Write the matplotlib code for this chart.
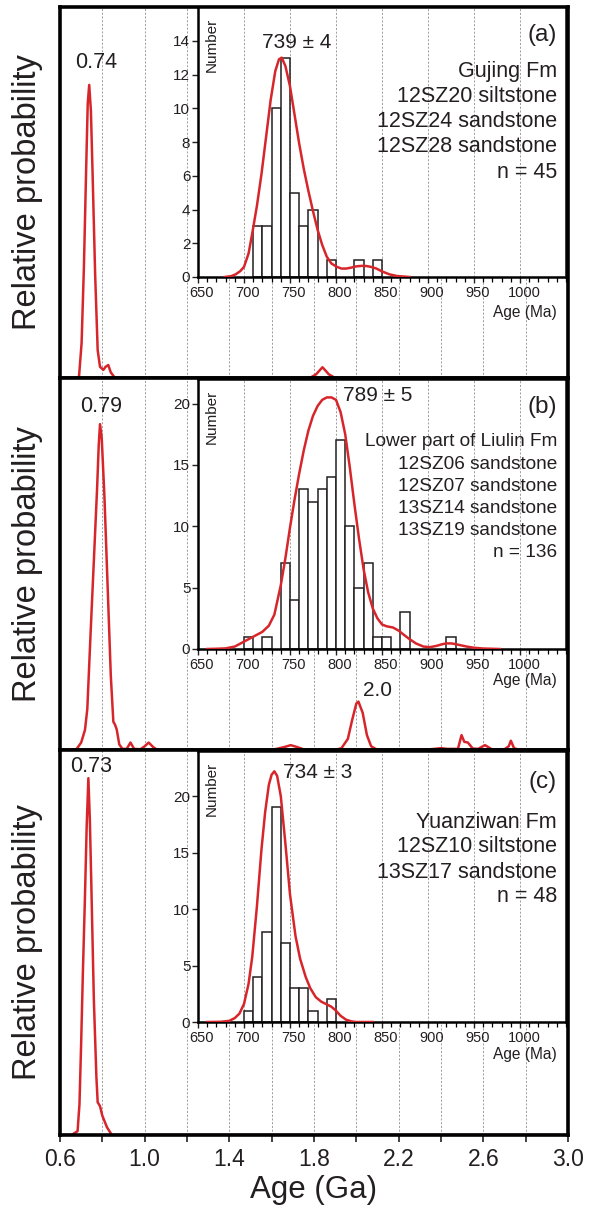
import matplotlib
matplotlib.use("Agg")
import matplotlib.pyplot as plt
from matplotlib.ticker import MultipleLocator
from matplotlib.transforms import ScaledTranslation

plt.rcParams["font.family"] = ["Liberation Sans", "DejaVu Sans"]

W, H = 590, 1205
RED = "#d7262b"
INK = "#231f20"
GRID = "#8f8f8f"

# ---- main relative-probability curves (age in Ga, height as fraction of panel) ----
a_main_ga = [0.60, 0.68, 0.69, 0.702, 0.713, 0.723, 0.731, 0.738, 0.746, 0.754, 0.766,
             0.778, 0.789, 0.805, 0.815, 0.828, 0.84, 0.86, 1.78, 1.81, 1.84, 1.87,
             1.90, 3.0]
a_main_p = [0, 0, 0.005, 0.094, 0.30, 0.55, 0.74, 0.79, 0.72, 0.55, 0.28,
            0.075, 0.03, 0.022, 0.03, 0.035, 0.015, 0, 0, 0.01, 0.029, 0.01,
            0, 0]

b_main_ga = [0.60, 0.66, 0.679, 0.70, 0.718, 0.729, 0.745, 0.76, 0.775, 0.783, 0.789,
             0.797, 0.81, 0.825, 0.84, 0.852, 0.86, 0.868, 0.88, 0.895, 0.915, 0.933,
             0.95, 0.98, 1.0, 1.019, 1.04, 1.06, 1.60, 1.66, 1.69, 1.72, 1.76, 1.90,
             1.93, 1.96, 1.98, 2.0, 2.01, 2.03, 2.05, 2.07, 2.10, 2.30, 2.37, 2.40,
             2.43, 2.48, 2.497, 2.51, 2.527, 2.55, 2.575, 2.608, 2.64, 2.70, 2.72,
             2.73, 2.745, 2.76, 2.80, 3.0]
b_main_p = [0, 0, 0.003, 0.02, 0.054, 0.11, 0.32, 0.51, 0.70, 0.82, 0.876,
            0.84, 0.68, 0.44, 0.20, 0.076, 0.068, 0.055, 0.015, 0.003, 0.003, 0.02,
            0.003, 0.002, 0.01, 0.02, 0.008, 0, 0, 0.008, 0.013, 0.008, 0, 0,
            0.005, 0.03, 0.08, 0.125, 0.13, 0.10, 0.04, 0.01, 0, 0, 0.003, 0.005,
            0.003, 0.003, 0.04, 0.022, 0.02, 0.004, 0.003, 0.013, 0.002, 0.002, 0.01,
            0.025, 0.005, 0.002, 0, 0]

c_main_ga = [0.60, 0.655, 0.683, 0.692, 0.70, 0.708, 0.717, 0.726, 0.734, 0.741, 0.748,
             0.76, 0.772, 0.778, 0.789, 0.80, 0.822, 0.845, 3.0]
c_main_p = [0, 0, 0.01, 0.08, 0.24, 0.42, 0.60, 0.80, 0.927, 0.82, 0.65,
            0.35, 0.15, 0.085, 0.075, 0.05, 0.02, 0, 0]

# ---- inset histograms (bin left edge in Ma, count) ----
a_bin_left = [710, 720, 730, 740, 750, 760, 770, 790, 820, 840]
a_count = [3, 3, 10, 13, 5, 3, 4, 1, 1, 1]
b_bin_left = [700, 720, 740, 750, 760, 770, 780, 790, 800, 810, 820, 830, 840, 850, 870, 920]
b_count = [1, 1, 7, 4, 13, 12, 13, 14, 17, 10, 5, 7, 1, 1, 3, 1]
c_bin_left = [700, 710, 720, 730, 740, 750, 760, 770, 790]
c_count = [1, 4, 8, 19, 7, 3, 3, 1, 2]

# ---- inset probability curves (Ma, scaled to counts) ----
a_curve_ma = [679, 686, 691, 696, 700, 705, 709, 714, 719, 724, 729, 734, 738, 741,
              745, 750, 755, 760, 765, 770, 775, 780, 785, 790, 795, 801, 806, 811,
              816, 822, 828, 833, 838, 844, 850, 858, 866, 880]
a_curve_n = [0, 0.05, 0.16, 0.35, 0.6, 1.4, 2.6, 4.2, 6.1, 8.3, 10.5, 12.2, 12.9, 13.0,
             12.5, 11.3, 9.6, 7.9, 6.4, 5.1, 3.9, 2.8, 1.9, 1.2, 0.8, 0.6, 0.5, 0.5,
             0.55, 0.63, 0.66, 0.65, 0.6, 0.5, 0.33, 0.16, 0.06, 0]
b_curve_ma = [660, 670, 680, 690, 700, 710, 720, 727, 733, 740, 745, 750, 755, 760,
              765, 770, 775, 780, 785, 790, 795, 800, 805, 810, 815, 820, 825, 830,
              835, 840, 845, 850, 855, 862, 868, 873, 880, 887, 895, 902, 909, 915,
              920, 926, 931, 937, 942, 950, 960, 978]
b_curve_n = [0, 0.02, 0.05, 0.2, 0.6, 1.0, 1.4, 1.9, 2.8, 5.2, 7.4, 9.9, 12.2, 14.3,
             16.2, 17.8, 19.0, 19.8, 20.3, 20.5, 20.5, 20.3, 19.3, 17.5, 14.8, 11.8, 9.0,
             6.5, 4.6, 3.3, 2.5, 2.0, 1.85, 1.75, 1.5, 1.2, 0.8, 0.45, 0.2, 0.15, 0.25,
             0.38, 0.46, 0.45, 0.38, 0.28, 0.2, 0.1, 0.04, 0]
c_curve_ma = [660, 675, 684, 690, 695, 700, 705, 709, 714, 719, 723, 727, 730, 733,
              736, 740, 745, 750, 756, 761, 767, 772, 778, 784, 789, 795, 800, 805,
              811, 817, 822, 840]
c_curve_n = [0, 0.02, 0.1, 0.35, 0.74, 1.6, 3.4, 5.8, 10.2, 15.3, 18.6, 21.0, 21.9,
             22.2, 21.8, 20.0, 15.8, 11.3, 7.6, 5.6, 4.0, 3.0, 2.2, 1.8, 1.6, 1.35,
             1.0, 0.55, 0.2, 0.05, 0, 0]

main_xticks = [0.6, 1.0, 1.4, 1.8, 2.2, 2.6, 3.0]
inset_xticks = [650, 700, 750, 800, 850, 900, 950, 1000]


def rect(left, top, right, bottom):
    return [left / W, 1 - bottom / H, (right - left) / W, (bottom - top) / H]


def put(x, y, s, size=12, ha="center", **kw):
    fig.text(x / W, 1 - y / H, s, fontsize=size, ha=ha, va="center", color=INK, **kw)


def main_panel(box, ga, p, bottom_labels):
    ax = fig.add_axes(rect(*box))
    ax.plot(ga, p, color=RED, lw=1.8, zorder=2)
    ax.set_xlim(0.6, 3.0)
    ax.set_ylim(0, 1)
    ax.set_yticks([])
    ax.set_xticks(main_xticks)
    ax.xaxis.set_minor_locator(MultipleLocator(0.2))
    ax.grid(axis="x", which="both", color=GRID, lw=0.6, ls=(0, (2.5, 2)))
    for s in ax.spines.values():
        s.set_linewidth(2.6)
        s.set_color("black")
    if bottom_labels:
        ax.tick_params(axis="x", which="both", direction="out", length=5, width=1.2,
                       labelsize=16.5, pad=4, colors=INK)
        ax.set_xticklabels([f"{t:.1f}" for t in main_xticks])
        ax.set_xlabel("Age (Ga)", fontsize=22.5, color=INK, labelpad=3)
    else:
        ax.tick_params(axis="x", which="both", length=0, labelbottom=False)
    ax.set_ylabel("Relative probability", fontsize=23.5, color=INK, labelpad=12)
    return ax


def inset_panel(box, left, count, cx, cy, ymax, yticks):
    ax = fig.add_axes(rect(*box))
    ax.set_facecolor("white")
    ax.bar(left, count, width=10, align="edge", facecolor="white", edgecolor=INK,
           lw=1.1, zorder=2)
    ax.plot(cx, cy, color=RED, lw=1.8, zorder=3)
    ax.set_xlim(650, 1050)
    ax.set_ylim(0, ymax)
    ax.set_xticks(inset_xticks)
    ax.xaxis.set_minor_locator(MultipleLocator(10))
    ax.set_yticks(yticks)
    ax.grid(axis="x", which="major", color=GRID, lw=0.6, ls=(0, (2.5, 2)), zorder=0)
    ax.set_axisbelow(True)
    ax.tick_params(axis="x", which="major", direction="out", length=4, width=1,
                   labelsize=10.5, pad=2.5, colors=INK)
    ax.tick_params(axis="x", which="minor", direction="out", length=3.5, width=0.9)
    ax.tick_params(axis="y", direction="out", length=4, width=1, labelsize=11,
                   pad=1.5, colors=INK)
    shift = ScaledTranslation(4 / 100, 0, fig.dpi_scale_trans)
    for lab in ax.get_xticklabels():
        lab.set_transform(lab.get_transform() + shift)
    for s in ax.spines.values():
        s.set_linewidth(1.8)
        s.set_color("black")
    ax.text(0.037, 0.96, "Number", rotation=90, fontsize=11, color=INK,
            transform=ax.transAxes, ha="center", va="top")
    return ax


fig = plt.figure(figsize=(W / 100, H / 100), dpi=100)

main_panel((60, 7, 568, 378), a_main_ga, a_main_p, False)
main_panel((60, 378, 568, 750), b_main_ga, b_main_p, False)
main_panel((60, 750, 568, 1135), c_main_ga, c_main_p, True)

inset_panel((198, 7, 566, 277), a_bin_left, a_count, a_curve_ma, a_curve_n, 16,
            [0, 2, 4, 6, 8, 10, 12, 14])
inset_panel((198, 379, 566, 649), b_bin_left, b_count, b_curve_ma, b_curve_n, 22,
            [0, 5, 10, 15, 20])
inset_panel((198, 751, 566, 1022), c_bin_left, c_count, c_curve_ma, c_curve_n, 24,
            [0, 5, 10, 15, 20])

# panel (a) annotations
put(96, 62, "0.74", 15.5)
put(297, 42, "739 ± 4", 15)
put(557, 35, "(a)", 17.5, ha="right")
for i, s in enumerate(["Gujing Fm", "12SZ20 siltstone", "12SZ24 sandstone",
                       "12SZ28 sandstone", "n = 45"]):
    put(557, 71 + 25.3 * i, s, 15.5, ha="right")
put(557, 313, "Age (Ma)", 11.2, ha="right")

# panel (b) annotations
put(101, 406, "0.79", 15.5)
put(378, 690, "2.0", 15)
put(378, 396, "789 ± 5", 15)
put(557, 407, "(b)", 17.5, ha="right")
for i, s in enumerate(["Lower part of Liulin Fm", "12SZ06 sandstone",
                       "12SZ07 sandstone", "13SZ14 sandstone", "13SZ19 sandstone",
                       "n = 136"]):
    put(557, 442 + 22.2 * i, s, 13.7, ha="right")
put(557, 681, "Age (Ma)", 11.2, ha="right")

# panel (c) annotations
put(91, 766, "0.73", 15.5)
put(318, 773, "734 ± 3", 15)
put(557, 782, "(c)", 17.5, ha="right")
for i, s in enumerate(["Yuanziwan Fm", "12SZ10 siltstone", "13SZ17 sandstone",
                       "n = 48"]):
    put(557, 822 + 25 * i, s, 15.5, ha="right")
put(557, 1054, "Age (Ma)", 11.2, ha="right")

fig.savefig("out.png", dpi=100)
